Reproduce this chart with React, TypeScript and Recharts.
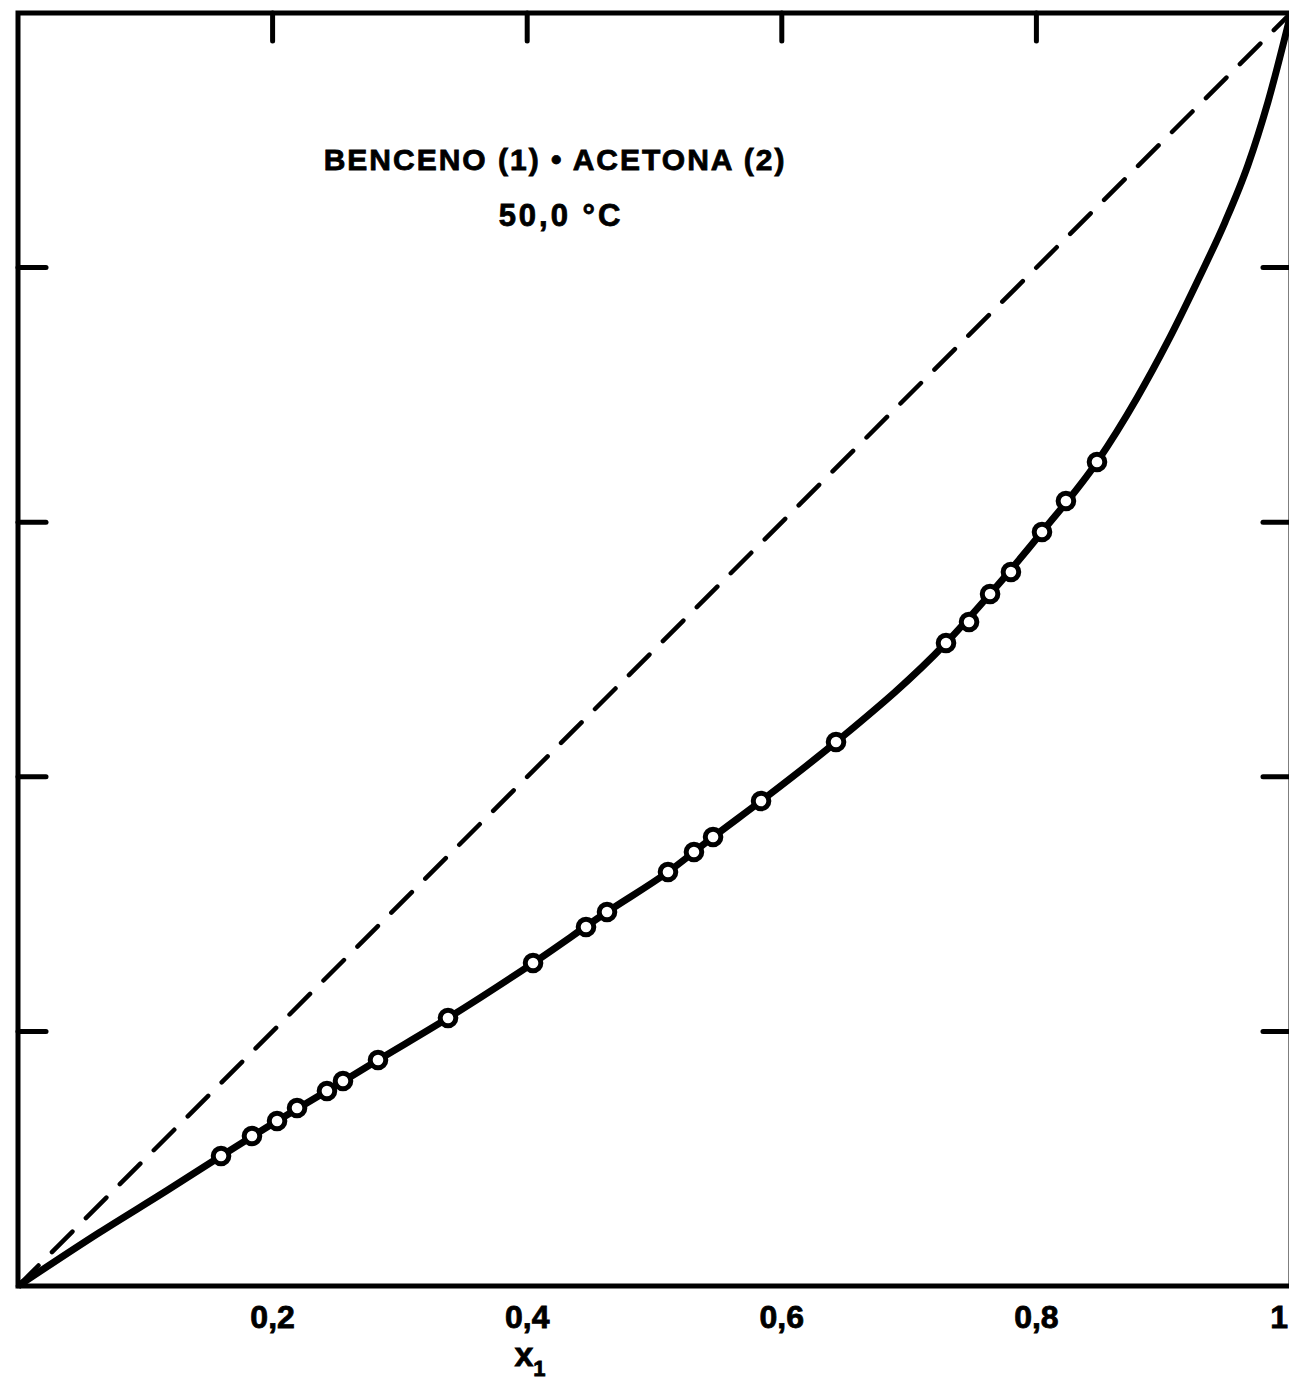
import React from 'react';
import { ComposedChart, Line, Scatter, XAxis, YAxis, ReferenceArea, ReferenceLine } from 'recharts';

// measured points (x1, y1)
const pointX = [
  0.1595, 0.1838, 0.2035, 0.2192, 0.2427, 0.2553, 0.2828, 0.3378, 0.4046, 0.4462, 0.4627, 0.5106,
  0.531, 0.546, 0.5837, 0.6426, 0.729, 0.7471, 0.7636, 0.78, 0.8044, 0.8232, 0.8476,
];
const pointY = [
  0.1021, 0.1178, 0.1296, 0.1398, 0.1532, 0.161, 0.1775, 0.2105, 0.2537, 0.282, 0.2938, 0.3252,
  0.3409, 0.3527, 0.381, 0.4273, 0.5051, 0.5216, 0.5436, 0.5609, 0.5923, 0.6167, 0.6473,
];

// smooth curve
const curveX = [
  0, 0.064, 0.117, 0.1595, 0.2035, 0.2427, 0.2828, 0.3378, 0.4046, 0.4627, 0.5106, 0.546, 0.5837,
  0.6426, 0.729, 0.7636, 0.8044, 0.8476, 0.879, 0.9026, 0.9285, 0.9482, 0.9662, 0.9819, 1,
];
const curveY = [
  0, 0.042, 0.075, 0.1021, 0.1296, 0.1532, 0.1775, 0.2105, 0.2537, 0.2938, 0.3252, 0.3527, 0.381,
  0.4273, 0.5051, 0.5436, 0.5923, 0.6473, 0.6976, 0.7408, 0.7934, 0.8358, 0.8806, 0.9301, 1,
];

const diagonalX = [0, 1];
const diagonalY = [0, 1];

const xTicks = [0.2, 0.4, 0.6, 0.8, 1];
const innerTicks = [0.2, 0.4, 0.6, 0.8];

const zip = (xs: number[], ys: number[]) => xs.map((x, i) => ({ x, y: ys[i] }));
const points = zip(pointX, pointY);
const curve = zip(curveX, curveY);
const diagonal = zip(diagonalX, diagonalY);

const FONT = '"Liberation Sans", Arial, sans-serif';
const TICK_LEN = 0.022; // inward tick length, in axis units

const BottomTick = ({ x, y, payload }: any) => {
  const last = payload.value === 1;
  return (
    <text
      x={last ? Math.min(x, 1288) : x}
      y={y}
      dy={42}
      textAnchor={last ? 'end' : 'middle'}
      fontFamily={FONT}
      fontWeight="bold"
      fontSize={32}
      fill="#000"
      stroke="#000"
      strokeWidth={0.8}
    >
      {String(payload.value).replace('.', ',')}
    </text>
  );
};

const OpenCircle = ({ cx, cy }: any) => (
  <circle cx={cx} cy={cy} r={7.8} fill="#fff" stroke="#000" strokeWidth={5} />
);

const tickStyle = { stroke: '#000', strokeWidth: 5, strokeLinecap: 'round' as const, ifOverflow: 'visible' as const };
const textStyle = { fontFamily: FONT, fontWeight: 'bold', fill: '#000', stroke: '#000', strokeWidth: 0.8 };

export default function App() {
  return (
    <div style={{ position: 'absolute', left: 0, top: 0, width: 1289, height: 1387, overflow: 'hidden', background: '#fff' }}>
      <ComposedChart width={1300} height={1387} margin={{ top: 13, right: 9, bottom: 51, left: 18 }}>
        <XAxis
          xAxisId="b"
          dataKey="x"
          type="number"
          domain={[0, 1]}
          ticks={xTicks}
          axisLine={false}
          tickLine={false}
          tickSize={0}
          tickMargin={0}
          tick={<BottomTick />}
          height={50}
          interval={0}
        />
        <YAxis yAxisId="l" dataKey="y" type="number" domain={[0, 1]} hide />
        <ReferenceArea
          xAxisId="b"
          yAxisId="l"
          x1={0}
          x2={1}
          y1={0}
          y2={1}
          fill="none"
          fillOpacity={0}
          stroke="#000"
          strokeWidth={5}
          ifOverflow="visible"
        />
        {innerTicks.map((t) => (
          <ReferenceLine
            key={`top-${t}`}
            xAxisId="b"
            yAxisId="l"
            segment={[{ x: t, y: 1 }, { x: t, y: 1 - TICK_LEN }]}
            {...tickStyle}
          />
        ))}
        {innerTicks.map((t) => (
          <ReferenceLine
            key={`left-${t}`}
            xAxisId="b"
            yAxisId="l"
            segment={[{ x: 0, y: t }, { x: TICK_LEN, y: t }]}
            {...tickStyle}
          />
        ))}
        {innerTicks.map((t) => (
          <ReferenceLine
            key={`right-${t}`}
            xAxisId="b"
            yAxisId="l"
            segment={[{ x: 1, y: t }, { x: 1 - TICK_LEN, y: t }]}
            {...tickStyle}
          />
        ))}
        <Line
          xAxisId="b"
          yAxisId="l"
          data={diagonal}
          dataKey="y"
          type="linear"
          stroke="#000"
          strokeWidth={4.5}
          strokeDasharray="29 19"
          strokeLinecap="round"
          dot={false}
          activeDot={false}
          isAnimationActive={false}
        />
        <Line
          xAxisId="b"
          yAxisId="l"
          data={curve}
          dataKey="y"
          type="monotone"
          stroke="#000"
          strokeWidth={7}
          dot={false}
          activeDot={false}
          isAnimationActive={false}
        />
        <Scatter
          xAxisId="b"
          yAxisId="l"
          data={points}
          dataKey="y"
          shape={<OpenCircle />}
          isAnimationActive={false}
        />
      </ComposedChart>
      <svg width={1289} height={1387} style={{ position: 'absolute', left: 0, top: 0, pointerEvents: 'none' }}>
        <text x={555} y={170} textAnchor="middle" fontSize={30} letterSpacing={2} {...textStyle}>
          BENCENO (1) • ACETONA (2)
        </text>
        <text x={561} y={226} textAnchor="middle" fontSize={31} letterSpacing={3} {...textStyle}>
          50,0 °C
        </text>
        <text x={530} y={1366} textAnchor="middle" fontSize={34} {...textStyle}>
          x<tspan dy={10} fontSize={22}>1</tspan>
        </text>
      </svg>
    </div>
  );
}
